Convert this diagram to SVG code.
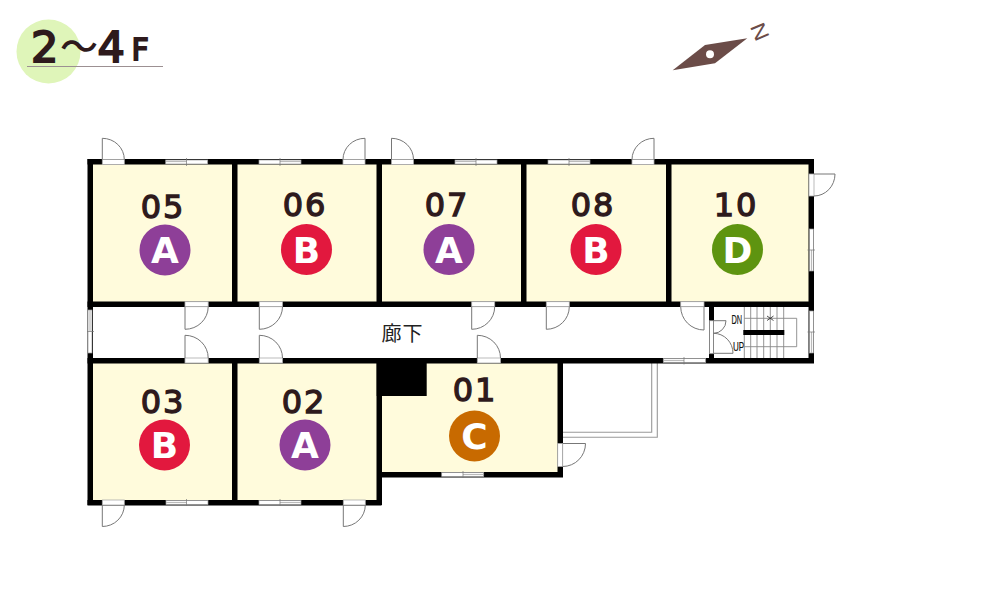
<svg xmlns="http://www.w3.org/2000/svg" width="1000" height="600" viewBox="0 0 1000 600">
<defs>
<style>
.floor{fill:#fffbdc}
.wall{fill:#000}
.gap{fill:#fff;stroke:#aaa;stroke-width:.8}
.door{fill:none;stroke:#777;stroke-width:1}
.win{fill:#fff;stroke:#999;stroke-width:.7}
.tick{fill:none;stroke:#777;stroke-width:.7}
.pane{fill:none;stroke:#bbb;stroke-width:1.2}
.rail{fill:none;stroke:#999;stroke-width:1.1}
.stair{fill:none;stroke:#888;stroke-width:.9}
.num{font-family:"DejaVu Sans",sans-serif;font-size:32px;stroke:#2e1a1c;stroke-width:1.3;letter-spacing:2px;fill:#2e1a1c;text-anchor:middle}
.badge{font-family:"DejaVu Sans",sans-serif;font-size:36px;font-weight:700;fill:#fff;text-anchor:middle}
.a{fill:#8e3f98}.b{fill:#e2183e}.c{fill:#c86a00}.d{fill:#5e9410}
.title{font-family:"DejaVu Sans",sans-serif;fill:#2e1a1c;stroke:#2e1a1c}
.sm{font-family:"Liberation Sans",sans-serif;font-size:13px;fill:#111;stroke:#111;stroke-width:.2}
</style>
</defs>
<rect width="1000" height="600" fill="#fff"/>
<g id="title">
<circle cx="48.5" cy="51.500" r="32" fill="#dff5b9"/>
<line x1="27" y1="66.5" x2="163" y2="66.5" stroke="#9c9092" stroke-width="1"/>
<text class="title" x="31" y="62" font-size="43" stroke-width="2">2</text>
<text class="title" x="60" y="60" font-size="38" stroke-width="0" style="font-family:'Noto Sans CJK JP',sans-serif;font-weight:500">～</text>
<text class="title" x="97.500" y="62" font-size="43" stroke-width="2">4</text>
<text class="title" x="131.500" y="60" font-size="30" stroke-width="1.800">F</text>
</g>
<g id="compass">
<polygon points="672.7,70.3 705,45 747.3,38.3 715,63.3" fill="#6b4c48"/>
<circle cx="710" cy="54.3" r="4" fill="#fff"/>
<text transform="translate(760 31.7) rotate(67) scale(1.15 1)" y="7.5" text-anchor="middle" font-family="Liberation Sans,sans-serif" font-size="21" fill="#6b4c48">N</text>
</g>
<g id="floors">
<rect class="floor" x="92" y="164" width="141" height="138"/>
<rect class="floor" x="236" y="164" width="141" height="138"/>
<rect class="floor" x="380" y="164" width="142" height="138"/>
<rect class="floor" x="525" y="164" width="142" height="138"/>
<rect class="floor" x="670" y="164" width="140" height="138"/>
<rect class="floor" x="92" y="362" width="141" height="139"/>
<rect class="floor" x="236" y="362" width="141" height="139"/>
<rect class="floor" x="380" y="362" width="179" height="111"/>
</g>
<g id="balcony">
<path class="rail" d="M562 432.3H651.7V363M562 437.3H657.3V363"/>
</g>
<g id="walls">
<rect class="wall" x="87.5" y="159" width="726.5" height="5.500"/>
<rect class="wall" x="87.5" y="301.500" width="726.5" height="5.500"/>
<rect class="wall" x="87.5" y="358" width="726.5" height="5.500"/>
<rect class="wall" x="87.5" y="159" width="5.500" height="346"/>
<rect class="wall" x="87.5" y="500" width="294" height="5.500"/>
<rect class="wall" x="232" y="159" width="5.500" height="148"/>
<rect class="wall" x="232" y="358" width="5.500" height="147"/>
<rect class="wall" x="376.5" y="159" width="5.500" height="148"/>
<rect class="wall" x="376.5" y="358" width="5.500" height="147"/>
<rect class="wall" x="521" y="159" width="5.500" height="148"/>
<rect class="wall" x="666" y="159" width="5.500" height="148"/>
<rect class="wall" x="808.500" y="159" width="5.500" height="204"/>
<rect class="wall" x="557.5" y="358" width="5.500" height="119"/>
<rect class="wall" x="381" y="472" width="182" height="5.500"/>
<rect class="wall" x="709" y="302" width="5" height="61"/>
<rect class="wall" x="376.7" y="358" width="50" height="38"/>
</g>
<g id="doors">
<rect class="gap" x="102.3" y="159.5" width="22" height="5"/><path class="door" d="M102.3 159.5V138.3A22 21.2 0 0 1 124.3 159.5"/>
<rect class="gap" x="343" y="159.5" width="22" height="5"/><path class="door" d="M365 159.5V138.3A22 21.2 0 0 0 343 159.5"/>
<rect class="gap" x="391.5" y="159.5" width="22" height="5"/><path class="door" d="M391.5 159.5V138.3A22 21.2 0 0 1 413.5 159.5"/>
<rect class="gap" x="632" y="159.5" width="22" height="5"/><path class="door" d="M654 159.5V138.3A22 21.2 0 0 0 632 159.5"/>
<rect class="gap" x="809" y="174" width="5" height="22"/><path class="door" d="M814 174H835A21 22 0 0 1 814 196"/>
<rect class="gap" x="185" y="301.7" width="23.2" height="5"/><path class="door" d="M185 306.7V329.3A23.2 22.6 0 0 0 208.2 306.7"/>
<rect class="gap" x="259.3" y="301.7" width="23.2" height="5"/><path class="door" d="M259.3 306.7V329.3A23.2 22.6 0 0 0 282.5 306.7"/>
<rect class="gap" x="471.7" y="301.7" width="23" height="5"/><path class="door" d="M471.7 306.7V329.3A23 22.6 0 0 0 494.7 306.7"/>
<rect class="gap" x="546.3" y="301.7" width="23" height="5"/><path class="door" d="M546.3 306.7V329.3A23 22.6 0 0 0 569.3 306.7"/>
<rect class="gap" x="680.7" y="301.7" width="23.3" height="5"/><path class="door" d="M704 306.7V330A23.3 23.3 0 0 1 680.7 306.7"/>
<rect class="gap" x="185" y="358" width="23.2" height="5"/><path class="door" d="M185 358V335.3A23.2 22.7 0 0 1 208.2 358"/>
<rect class="gap" x="259.3" y="358" width="23.2" height="5"/><path class="door" d="M259.3 358V335.3A23.2 22.7 0 0 1 282.5 358"/>
<rect class="gap" x="477.3" y="358" width="23.2" height="5"/><path class="door" d="M477.3 358V335.3A23.2 22.7 0 0 1 500.5 358"/>
<rect class="gap" x="557.7" y="443.5" width="5" height="23"/><path class="door" d="M562.7 443.5H585.5A22.8 23 0 0 1 562.7 466.5"/>
<rect class="gap" x="102.3" y="500" width="22" height="5"/><path class="door" d="M102.3 505V526.5A22 21.5 0 0 0 124.3 505"/>
<rect class="gap" x="343.3" y="500" width="22" height="5"/><path class="door" d="M343.3 505V526.5A22 21.5 0 0 0 365.3 505"/>
</g>
<g id="windows">
<rect class="win" x="165.7" y="160" width="42" height="4"/><path class="pane" d="M166 161.500H186.500"/><path class="tick" d="M186.500 158V166"/>
<rect class="win" x="259" y="160" width="42" height="4"/><path class="pane" d="M280 161.500H301"/><path class="tick" d="M280 158V166"/>
<rect class="win" x="455" y="160" width="42" height="4"/><path class="pane" d="M455 161.500H476"/><path class="tick" d="M476 158V166"/>
<rect class="win" x="548" y="160" width="42" height="4"/><path class="pane" d="M569 161.500H590"/><path class="tick" d="M569 158V166"/>
<rect class="win" x="809.5" y="229" width="4" height="42"/><path class="pane" d="M811.500 250V271"/><path class="tick" d="M807.500 250H815"/>
<rect class="win" x="809.5" y="311" width="4" height="42"/><path class="pane" d="M811.500 332V353"/><path class="tick" d="M807.500 332H815"/>
<rect class="win" x="88" y="310" width="4" height="43"/><path class="pane" d="M90 310V331.500"/><path class="tick" d="M87 331.500H94"/>
<rect class="win" x="663.300" y="358.500" width="42.400" height="4"/><path class="pane" d="M664 360.500H684"/><path class="tick" d="M684 357V364.500"/>
<rect class="win" x="441.700" y="472.500" width="42" height="4"/><path class="pane" d="M463 474.500H483"/><path class="tick" d="M463 471V478"/>
<rect class="win" x="166" y="500.500" width="42" height="4"/><path class="pane" d="M166 502.500H186.500"/><path class="tick" d="M186.500 499V506"/>
<rect class="win" x="259" y="500.500" width="42" height="4"/><path class="pane" d="M280 502.500H301"/><path class="tick" d="M280 499V506"/>
</g>
<g id="stairs">
<rect x="709.500" y="320.700" width="4" height="33" fill="#fff" stroke="#888" stroke-width=".8"/>
<path class="door" d="M713.500 320.700H726A12.500 12.600 0 0 1 713.500 333.300A19.500 20 0 0 1 733 353.300H713.500"/>
<path class="stair" d="M744.300 307V358M750.700 307V358M757 307V358M763.700 307V358M770.300 307V358M777 307V358M783.700 307V358M744.300 318.300H796.700V346.700H744.300"/>
<rect x="743.300" y="330" width="41" height="5" fill="#000"/>
<path d="M767 316L770.300 318.300L767 320.500M773.500 316L770.300 318.300L773.500 320.500" fill="none" stroke="#222" stroke-width=".8"/>
<text class="sm" transform="translate(731.500 324.300) scale(.57 1)">DN</text>
<text class="sm" transform="translate(733 350.700) scale(.62 1)">UP</text>
</g>
<g id="room-05"><text class="num" x="163" y="218">05</text><circle class="a" cx="165" cy="250" r="25.500"/><text class="badge" x="165" y="263">A</text></g>
<g id="room-06"><text class="num" x="305" y="216">06</text><circle class="b" cx="306.500" cy="249.500" r="25.500"/><text class="badge" x="306.500" y="262.500">B</text></g>
<g id="room-07"><text class="num" x="447" y="216">07</text><circle class="a" cx="449" cy="249.500" r="25.500"/><text class="badge" x="449" y="262.500">A</text></g>
<g id="room-08"><text class="num" x="593" y="216">08</text><circle class="b" cx="596" cy="249.500" r="25.500"/><text class="badge" x="596" y="262.500">B</text></g>
<g id="room-10"><text class="num" x="736" y="216">10</text><circle class="d" cx="737.500" cy="249.500" r="25.500"/><text class="badge" x="737.500" y="262.500">D</text></g>
<g id="room-03"><text class="num" x="163" y="413">03</text><circle class="b" cx="164.500" cy="445" r="25.500"/><text class="badge" x="164.500" y="458">B</text></g>
<g id="room-02"><text class="num" x="304" y="413">02</text><circle class="a" cx="305" cy="445" r="25.500"/><text class="badge" x="305" y="458">A</text></g>
<g id="room-01"><text class="num" x="475" y="401">01</text><circle class="c" cx="474.500" cy="436" r="25.500"/><text class="badge" x="474.500" y="449">C</text></g>
<g id="corridor"><text x="402.500" y="341" text-anchor="middle" font-family="Noto Sans CJK JP,sans-serif" font-size="20" letter-spacing="1" fill="#222">廊下</text></g>
</svg>
